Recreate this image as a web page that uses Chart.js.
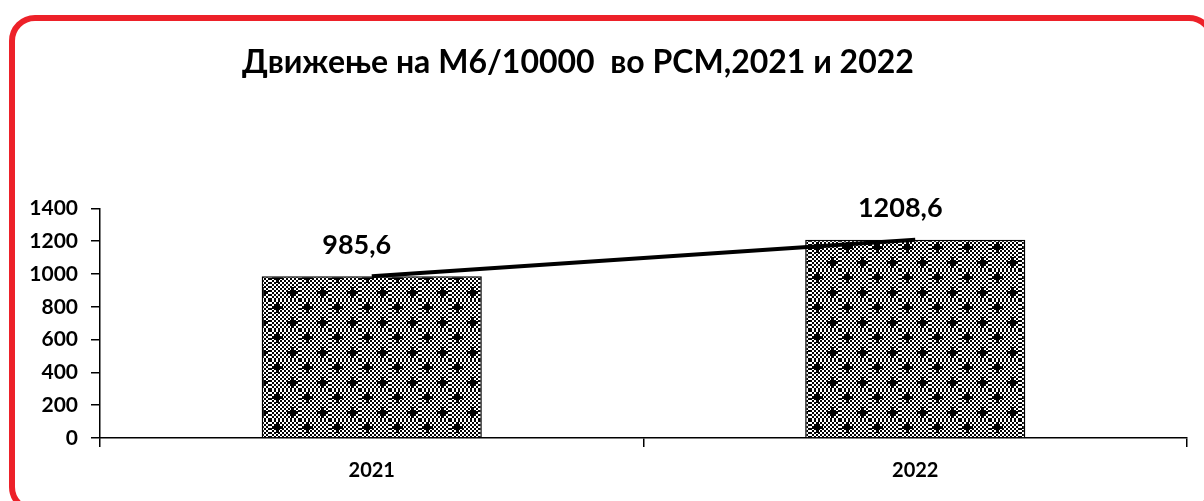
<!DOCTYPE html>
<html lang="mk">
<head>
<meta charset="utf-8">
<title>М6/10000</title>
<script src="https://cdn.jsdelivr.net/npm/chart.js@4.4.1/dist/chart.umd.min.js"></script>
<style>
  html, body { margin: 0; padding: 0; background: #fff; overflow: hidden; }
  #wrap { position: relative; width: 1204px; height: 501px; }
  #frame {
    position: absolute; left: 9px; top: 15px; width: 1194px; height: 486px;
    border: 6px solid #ED2129; border-radius: 26px;
  }
  canvas { position: absolute; left: 0; top: 0; }
</style>
</head>
<body>
<div id="wrap">
  <div id="frame"></div>
  <canvas id="myChart" width="1204" height="501"></canvas>
</div>
<script>
// податоци
var years = ['2021', '2022'];
var values = [985.6, 1208.6];
var title = 'Движење на М6/10000  во РСМ,2021 и 2022';

var fontFam = 'Lato, "Open Sans", "Noto Sans", sans-serif';

// шрафура: шаховска табла со крстчиња
function makePattern() {
    var c = document.createElement('canvas');
    c.width = 30; c.height = 30;
    var g = c.getContext('2d');
    g.fillStyle = '#fff';
    g.fillRect(0, 0, 30, 30);
    g.fillStyle = '#000';
    for (var y = 0; y < 30; y += 2) {
        for (var x = 0; x < 30; x += 2) {
            if (((x + y) / 2) % 2 == 0) g.fillRect(x, y, 2, 2);
        }
    }
    [[7, 7], [22, 22]].forEach(function (p) {
        g.fillRect(p[0] - 5, p[1] - 1, 11, 3);
        g.fillRect(p[0] - 1, p[1] - 5, 3, 11);
    });
    return g.createPattern(c, 'repeat');
}

var ctx = document.getElementById('myChart').getContext('2d');

var valueLabels = {
    id: 'valueLabels',
    afterDatasetsDraw: function (chart) {
        var meta = chart.getDatasetMeta(1);
        var g = chart.ctx;
        g.save();
        g.font = 'bold 27px ' + fontFam;
        g.fillStyle = '#000';
        g.textAlign = 'center';
        g.textBaseline = 'middle';
        meta.data.forEach(function (bar, i) {
            var txt = values[i].toFixed(1).replace('.', ',');
            g.fillText(txt, bar.x - 15, bar.y - 31);
        });
        g.restore();
    }
};

var chart = new Chart(ctx, {
    data: {
        labels: years,
        datasets: [{
            type: 'line',
            data: values,
            borderColor: '#000',
            borderWidth: 4,
            pointRadius: 0,
            tension: 0,
            order: 0
        }, {
            type: 'bar',
            data: values,
            backgroundColor: makePattern(),
            borderColor: '#000',
            borderWidth: 1.5,
            categoryPercentage: 1,
            barPercentage: 0.405,
            order: 1
        }]
    },
    options: {
        responsive: false,
        animation: false,
        layout: { padding: { left: 0, right: 17, top: 0, bottom: 20 } },
        plugins: {
            legend: { display: false },
            tooltip: { enabled: false },
            title: {
                display: true,
                text: title + '\u00a0\u00a0\u00a0\u00a0',
                color: '#000',
                font: { family: fontFam, size: 32, weight: 'bold' },
                padding: { top: 43, bottom: 127 }
            }
        },
        scales: {
            x: {
                grid: { display: true, offset: true, drawOnChartArea: false, drawTicks: true, tickLength: 9, color: '#000', lineWidth: 1.5 },
                border: { display: true, color: '#000', width: 1.5 },
                ticks: { color: '#000', padding: 12, font: { family: fontFam, size: 20, weight: 'bold' } },
                afterFit: function (s) { s.height = 43; }
            },
            y: {
                min: 0, max: 1400,
                grid: { display: true, drawOnChartArea: false, drawTicks: true, tickLength: 9, color: '#000', lineWidth: 1.5 },
                border: { display: true, color: '#000', width: 1.5 },
                ticks: {
                    stepSize: 200, color: '#000', padding: 13,
                    font: { family: fontFam, size: 21, weight: 'bold' },
                    callback: function (v) { return String(v); }
                },
                afterFit: function (s) { s.width = 100; }
            }
        }
    },
    plugins: [valueLabels]
});
</script>
</body>
</html>
